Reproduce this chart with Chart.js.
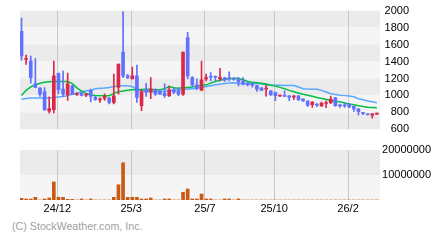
<!DOCTYPE html>
<html>
<head>
<meta charset="utf-8">
<script src="https://cdn.jsdelivr.net/npm/chart.js@4.4.1/dist/chart.umd.min.js"></script>
<style>
  body { margin: 0; background: #fff; }
  #wrap { position: relative; width: 440px; height: 240px; }
  canvas { position: absolute; left: 0; }
  #price { top: 0; }
  #volume { top: 140px; }
  #copy { position: absolute; left: 12px; top: 220px; font: 10.7px "Liberation Sans", Arial, sans-serif; color: #a0a0a0; white-space: nowrap; }
</style>
</head>
<body>
<div id="wrap">
  <canvas id="price" width="440" height="140"></canvas>
  <canvas id="volume" width="440" height="80"></canvas>
  <div id="copy">(C) StockWeather.com, Inc.</div>
</div>
<script>
// weekly candles, oldest first
const opens = [1755, 1425, 1405, 1137, 1086, 1043, 814, 833, 1261, 1074,
  1008, 1113, 1010, 1028, 1003, 1059, 977, 948, 965, 969,
  919, 1094, 1510, 1230, 1195, 1230, 880, 1067, 1040, 1067,
  1047, 1028, 997, 1067, 1055, 1016, 1681, 1210, 1125, 1060,
  1195, 1222, 1222, 1195, 1207, 1207, 1200, 1183, 1172, 1145,
  1137, 1117, 1090, 1074, 1051, 1035, 993, 997, 997, 980,
  997, 958, 935, 892, 891, 876, 905, 911, 973, 884,
  884, 899, 872, 841, 793, 778, 767, 780];
const highs = [1911, 1475, 1463, 1436, 1092, 1094, 985, 1405, 1265, 1288,
  1265, 1120, 1035, 1040, 1020, 1074, 989, 973, 1020, 977,
  1253, 1370, 1988, 1250, 1335, 1358, 1067, 1144, 1210, 1078,
  1067, 1137, 1113, 1086, 1086, 1510, 1743, 1222, 1195, 1405,
  1253, 1269, 1230, 1320, 1215, 1277, 1207, 1215, 1210, 1152,
  1152, 1121, 1094, 1121, 1059, 1040, 1005, 1055, 1000, 1000,
  1000, 962, 938, 927, 903, 923, 938, 993, 977, 899,
  911, 905, 875, 845, 800, 783, 785, 792];
const lows = [1417, 1366, 1144, 1090, 989, 822, 790, 794, 1020, 989,
  942, 1012, 1000, 995, 985, 923, 942, 919, 942, 900,
  900, 1016, 1210, 1200, 1195, 919, 822, 989, 962, 1000,
  1008, 977, 985, 1020, 997, 1000, 1195, 1105, 1067, 1060,
  1172, 1172, 1172, 1172, 1164, 1172, 1180, 1113, 1125, 1113,
  1098, 1047, 1055, 993, 1000, 938, 990, 985, 938, 950,
  938, 930, 872, 860, 868, 872, 857, 905, 872, 860,
  860, 857, 812, 767, 775, 767, 733, 776];
const closes = [1467, 1437, 1210, 1094, 1016, 833, 845, 1230, 1067, 1016,
  1137, 1016, 1020, 1001, 1010, 989, 954, 954, 989, 919,
  997, 1370, 1230, 1207, 1230, 977, 1047, 1040, 1078, 1016,
  1016, 997, 1067, 1040, 1016, 1510, 1230, 1125, 1086, 1183,
  1210, 1215, 1215, 1215, 1180, 1195, 1190, 1160, 1137, 1125,
  1120, 1074, 1059, 1082, 1005, 997, 999, 990, 977, 997,
  950, 935, 884, 923, 886, 911, 915, 958, 880, 878,
  878, 864, 841, 810, 788, 773, 783, 786];
// moving averages (green = short, blue = long)
const maShort = [1000, 1060, 1100, 1127, 1144, 1155, 1162, 1164, 1164, 1164,
  1164, 1140, 1090, 1050, 1025, 1005, 1000, 997, 997, 997,
  1025, 1043, 1052, 1060, 1067, 1067, 1070, 1072, 1070, 1067,
  1067, 1080, 1105, 1090, 1086, 1090, 1095, 1100, 1110, 1118,
  1125, 1145, 1164, 1178, 1190, 1198, 1203, 1200, 1185, 1165,
  1155, 1150, 1144, 1135, 1121, 1110, 1095, 1080, 1060, 1043,
  1030, 1015, 1003, 990, 975, 965, 955, 940, 930, 925,
  912, 900, 890, 880, 870, 862, 858, 855];
const maLong = [955, 963, 970, 970, 970, 970, 970, 975, 981, 989,
  1000, 1015, 1025, 1045, 1055, 1062, 1080, 1085, 1088, 1095,
  1105, 1113, 1113, 1113, 1105, 1070, 1055, 1050, 1047, 1047,
  1047, 1050, 1055, 1060, 1065, 1067, 1075, 1080, 1086, 1095,
  1105, 1115, 1125, 1133, 1140, 1148, 1150, 1140, 1137, 1137,
  1140, 1144, 1135, 1125, 1123, 1121, 1120, 1118, 1117, 1117,
  1100, 1080, 1076, 1074, 1072, 1060, 1040, 1020, 1010, 1003,
  998, 993, 985, 962, 950, 935, 925, 915];
const volumes = [670000, 400000, 400000, 1070000, 0, 400000, 800000, 7200000, 1070000, 1070000,
  270000, 270000, 0, 400000, 0, 400000, 0, 0, 0, 0,
  1070000, 6100000, 14900000, 1070000, 1070000, 1070000, 400000, 400000, 800000, 0,
  0, 400000, 400000, 0, 0, 3100000, 4400000, 400000, 400000, 2400000,
  400000, 400000, 0, 0, 400000, 400000, 0, 400000, 0, 0,
  0, 0, 0, 0, 0, 0, 0, 0, 0, 0,
  0, 0, 0, 0, 0, 0, 0, 0, 0, 0,
  0, 0, 0, 0, 0, 0, 0, 0];
// month marks sit on the week index where the month starts
const monthTicks = [7.75, 23.75, 39.75, 54.75, 70.75];
const monthLabels = ['24/12', '25/3', '25/7', '25/10', '26/2'];

Chart.defaults.font.family = "'Liberation Sans', Arial, sans-serif";
Chart.defaults.font.size = 11;
Chart.defaults.color = '#000';

const UP = '#dc2848';
const DOWN = '#6070ff';

const idx = opens.map((_, i) => i);
const candleColors = idx.map(i => closes[i] >= opens[i] ? UP : DOWN);

// alternating grey stripes between y ticks
const bands = {
    id: 'bands',
    beforeDraw(chart) {
        const { ctx, chartArea, scales } = chart;
        const ys = scales.y.ticks.map(t => scales.y.getPixelForValue(t.value)).sort((a, b) => a - b);
        ctx.save();
        for (let k = 0; k < ys.length - 1; k++) {
            ctx.fillStyle = k % 2 === 0 ? '#ebebeb' : '#f5f5f5';
            ctx.fillRect(chartArea.left, ys[k], chartArea.right - chartArea.left, ys[k + 1] - ys[k]);
        }
        ctx.restore();
    }
};

function weekAxis(showLabels) {
    return {
        type: 'linear',
        min: -0.33,
        max: 77.67,
        offset: false,
        grid: { offset: false, color: '#c8c8c8', lineWidth: 1, drawTicks: false },
        border: { display: false },
        afterBuildTicks: (scale) => {
            scale.ticks = monthTicks.map(v => ({ value: v }));
        },
        ticks: {
            display: showLabels,
            autoSkip: false,
            maxRotation: 0,
            padding: 2,
            callback: (value, index) => monthLabels[index]
        },
        afterFit: (scale) => {
            scale.height = showLabels ? 20 : 0;
        }
    };
}

new Chart(document.getElementById('price'), {
    type: 'bar',
    data: {
        datasets: [
            {
                type: 'line',
                data: idx.map(i => ({ x: i, y: maLong[i] })),
                borderColor: '#5aa8ff',
                borderWidth: 1.5,
                pointRadius: 0,
                order: 4
            },
            {
                type: 'line',
                data: idx.map(i => ({ x: i, y: maShort[i] })),
                borderColor: '#00c040',
                borderWidth: 1.5,
                pointRadius: 0,
                order: 3
            },
            {
                data: idx.map(i => ({ x: i, y: [lows[i], highs[i]] })),
                backgroundColor: candleColors,
                barThickness: 1,
                grouped: false,
                order: 2
            },
            {
                data: idx.map(i => ({ x: i, y: [opens[i], closes[i]] })),
                backgroundColor: candleColors,
                barThickness: 3,
                minBarLength: 1,
                grouped: false,
                order: 1
            }
        ]
    },
    options: {
        responsive: false,
        animation: false,
        layout: { padding: { left: 20, top: 10, right: 31, bottom: 10 } },
        scales: {
            x: weekAxis(false),
            y: {
                position: 'right',
                min: 600,
                max: 2000,
                grid: { display: false },
                border: { display: false },
                ticks: {
                    stepSize: 200,
                    padding: 4,
                    crossAlign: 'far',
                    callback: (value) => String(value)
                },
                afterFit: (scale) => { scale.width = 29; }
            }
        },
        plugins: {
            legend: { display: false },
            tooltip: { enabled: false }
        }
    },
    plugins: [bands]
});

new Chart(document.getElementById('volume'), {
    type: 'bar',
    data: {
        datasets: [{
            data: idx.map(i => ({ x: i, y: volumes[i] })),
            backgroundColor: '#c85a14',
            barThickness: 3,
            grouped: false
        }]
    },
    options: {
        responsive: false,
        animation: false,
        layout: { padding: { left: 20, top: 10, right: 9, bottom: 0 } },
        scales: {
            x: weekAxis(true),
            y: {
                position: 'right',
                min: 0,
                max: 20000000,
                grid: { display: false },
                border: { display: false },
                ticks: {
                    stepSize: 10000000,
                    padding: 2,
                    crossAlign: 'far',
                    callback: (value) => value === 0 ? '' : String(value)
                },
                afterFit: (scale) => { scale.width = 51; }
            }
        },
        plugins: {
            legend: { display: false },
            tooltip: { enabled: false }
        }
    },
    plugins: [bands]
});
</script>
</body>
</html>
